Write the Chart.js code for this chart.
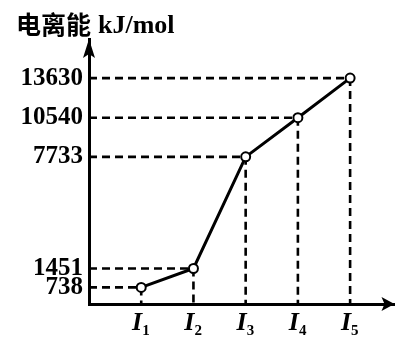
<!DOCTYPE html>
<html>
<head>
<meta charset="utf-8">
<script src="https://cdn.jsdelivr.net/npm/chart.js@4/dist/chart.umd.min.js"></script>
<style>
  html, body { margin: 0; padding: 0; background: #fff; }
  #wrap { width: 401px; height: 338px; }
</style>
</head>
<body>
<div id="wrap"><canvas id="chart"></canvas></div>
<script>
// ionization energies, kJ/mol
const levels = ['1', '2', '3', '4', '5'];
const energies = [738, 1451, 7733, 10540, 13630];
const yTicks = [738, 1451, 7733, 10540, 13630];

// the printed axis is not linear: it follows value^0.7
const POW = 0.7;
class PowerScale extends Chart.LinearScale {
    static id = 'power';
    static defaults = {};
    getPixelForValue(value) {
        const a = Math.pow(this.min, POW);
        const b = Math.pow(this.max, POW);
        return this.getPixelForDecimal((Math.pow(value, POW) - a) / (b - a));
    }
    getValueForPixel(pixel) {
        const a = Math.pow(this.min, POW);
        const b = Math.pow(this.max, POW);
        return Math.pow(a + this.getDecimalForPixel(pixel) * (b - a), 1 / POW);
    }
}
Chart.register(PowerScale);

const serif = '"Liberation Serif", "Times New Roman", serif';

// dashed guide lines from each point to both axes
const guides = {
    id: 'guides',
    beforeDatasetsDraw(chart) {
        const { ctx, chartArea, scales: { x, y } } = chart;
        ctx.save();
        ctx.strokeStyle = '#000';
        ctx.lineWidth = 2.6;
        ctx.setLineDash([8, 5]);
        energies.forEach((v, i) => {
            const px = x.getPixelForValue(i + 1);
            const py = y.getPixelForValue(v);
            ctx.beginPath();
            ctx.moveTo(chartArea.left, py);
            ctx.lineTo(px, py);
            ctx.moveTo(px, py);
            ctx.lineTo(px, chartArea.bottom);
            ctx.stroke();
        });
        ctx.restore();
    }
};

// arrows, axis title and the I_n labels
const decor = {
    id: 'decor',
    afterDraw(chart) {
        const { ctx, chartArea, scales: { x } } = chart;
        const l = chartArea.left, b = chartArea.bottom;
        ctx.save();
        ctx.fillStyle = '#000';

        ctx.beginPath();
        ctx.moveTo(l, chartArea.top);
        ctx.lineTo(l + 6, chartArea.top + 19);
        ctx.lineTo(l, chartArea.top + 15);
        ctx.lineTo(l - 6, chartArea.top + 19);
        ctx.closePath();
        ctx.fill();

        const r = chartArea.right;
        ctx.beginPath();
        ctx.moveTo(r, b);
        ctx.lineTo(r - 13, b - 7);
        ctx.lineTo(r - 10, b);
        ctx.lineTo(r - 13, b + 7);
        ctx.closePath();
        ctx.fill();

        ctx.textBaseline = 'alphabetic';
        ctx.textAlign = 'left';
        ctx.font = 'bold 25px "Noto Sans CJK SC"';
        ctx.fillText('电离能', 16, 34);
        ctx.font = 'bold 26px ' + serif;
        ctx.fillText('kJ/mol', 98, 33);

        levels.forEach((n, i) => {
            const px = x.getPixelForValue(i + 1);
            ctx.font = 'italic bold 26px ' + serif;
            const w = ctx.measureText('I').width;
            ctx.fillText('I', px - w + 1, 330);
            ctx.font = 'bold 15px ' + serif;
            ctx.fillText(n, px + 1, 335);
        });
        ctx.restore();
    }
};

new Chart(document.getElementById('chart'), {
    type: 'line',
    data: {
        datasets: [{
            data: energies.map((v, i) => ({ x: i + 1, y: v })),
            borderColor: '#000',
            borderWidth: 3,
            pointRadius: 4.5,
            pointBorderWidth: 2,
            pointBackgroundColor: '#fff',
            pointBorderColor: '#000',
            tension: 0
        }]
    },
    options: {
        responsive: true,
        maintainAspectRatio: false,
        animation: false,
        layout: { padding: { top: 39, right: 0, left: 0, bottom: 0 } },
        plugins: { legend: { display: false }, tooltip: { enabled: false } },
        scales: {
            x: {
                type: 'linear',
                min: 0,
                max: 5.85,
                grid: { display: false },
                border: { display: true, color: '#000', width: 3 },
                ticks: { display: false },
                afterFit: s => { s.height = 34; }
            },
            y: {
                type: 'power',
                min: 250,
                max: 16900,
                grid: { display: false, drawTicks: false },
                border: { display: true, color: '#000', width: 3 },
                afterBuildTicks: s => { s.ticks = yTicks.map(v => ({ value: v })); },
                afterFit: s => { s.width = 89; },
                ticks: {
                    autoSkip: false,
                    padding: 6,
                    color: '#000',
                    font: { family: serif, size: 25, weight: 'bold' },
                    callback: v => String(v)
                }
            }
        }
    },
    plugins: [guides, decor]
});
</script>
</body>
</html>
